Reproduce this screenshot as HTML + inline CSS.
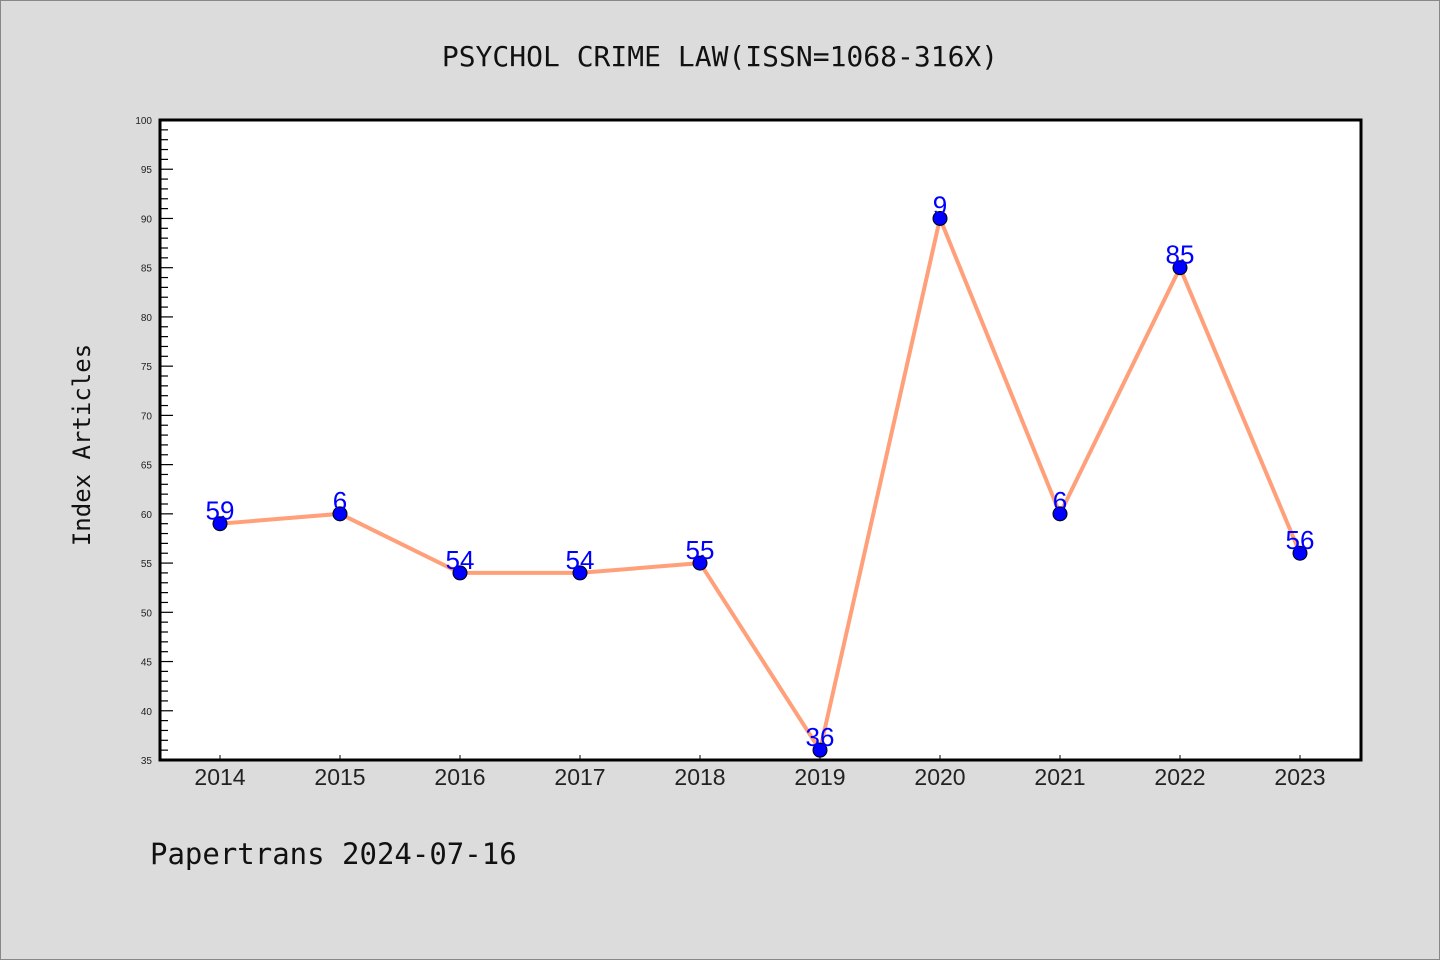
<!DOCTYPE html>
<html><head><meta charset="utf-8"><style>
body{margin:0;background:#dcdcdc;}
svg{display:block;font-family:"Liberation Sans","DejaVu Sans",sans-serif;}
</style></head><body>
<svg id="chart" width="1440" height="960">
<rect x="0.5" y="0.5" width="1439" height="959" fill="#dcdcdc" stroke="#888"/>
<text x="720" y="66" text-anchor="middle" font-size="28" fill="#111" font-family="DejaVu Sans Mono, Liberation Mono, monospace">PSYCHOL CRIME LAW(ISSN=1068-316X)</text>
<rect x="160" y="120" width="1201" height="640" fill="#fff"/>
<g id="yaxis"></g>
<g id="xaxis"></g>
<g id="series"></g>
<rect x="160" y="120" width="1201" height="640" fill="none" stroke="#000" stroke-width="3"/>
<text transform="translate(90,445) rotate(-90)" text-anchor="middle" font-size="24" fill="#111" font-family="DejaVu Sans Mono, Liberation Mono, monospace">Index Articles</text>
<text x="150" y="864" font-size="29" fill="#111" font-family="DejaVu Sans Mono, Liberation Mono, monospace">Papertrans 2024-07-16</text>
</svg>
<script>
const years=["2014","2015","2016","2017","2018","2019","2020","2021","2022","2023"];
const values=[59,60,54,54,55,36,90,60,85,56];
const valueLabels=["59","6","54","54","55","36","9","6","85","56"];
const yTicks=[35,40,45,50,55,60,65,70,75,80,85,90,95,100];
const NS="http://www.w3.org/2000/svg";
const X0=160,X1=1361,Y0=120,Y1=760,YMIN=35,YMAX=100;
function xs(i){return 220+i*120;}
function ys(v){return Y1-(v-YMIN)/(YMAX-YMIN)*(Y1-Y0);}
function mk(tag,attrs,parent){const e=document.createElementNS(NS,tag);for(const k in attrs)e.setAttribute(k,attrs[k]);parent.appendChild(e);return e;}
const ya=document.getElementById('yaxis'),xa=document.getElementById('xaxis'),sg=document.getElementById('series');
for(let v=YMIN;v<=YMAX;v++){
  const major=v%5===0;
  const t=mk('line',{x1:X0,x2:X0+(major?13:8),y1:ys(v),y2:ys(v),stroke:'#000','stroke-width':1.2},ya);
  
  
}
yTicks.forEach(v=>{
  const t=mk('text',{x:152,y:ys(v)+4,'text-anchor':'end','font-size':10,fill:'#222'},ya);
  t.textContent=v;
  
  
});
years.forEach((y,i)=>{
  const tk=mk('line',{x1:xs(i),x2:xs(i),y1:Y1,y2:Y1-5,stroke:'#000','stroke-width':1},xa);
  
  
  const t=mk('text',{x:xs(i),y:785,'text-anchor':'middle','font-size':23,fill:'#222'},xa);
  t.textContent=y;
  
  
});
const line=mk('polyline',{points:values.map((v,i)=>xs(i)+','+ys(v)).join(' '),fill:'none',stroke:'#ffa07a','stroke-width':4},sg);


values.forEach((v,i)=>{
  const c=mk('circle',{cx:xs(i),cy:ys(v),r:7,fill:'#0000ff',stroke:'#000','stroke-width':1},sg);
  
  
  const t=mk('text',{x:xs(i),y:ys(v)-4,'text-anchor':'middle','font-size':26,fill:'#0000ff'},sg);
  t.textContent=valueLabels[i];
  
  
});
</script>
</body></html>
